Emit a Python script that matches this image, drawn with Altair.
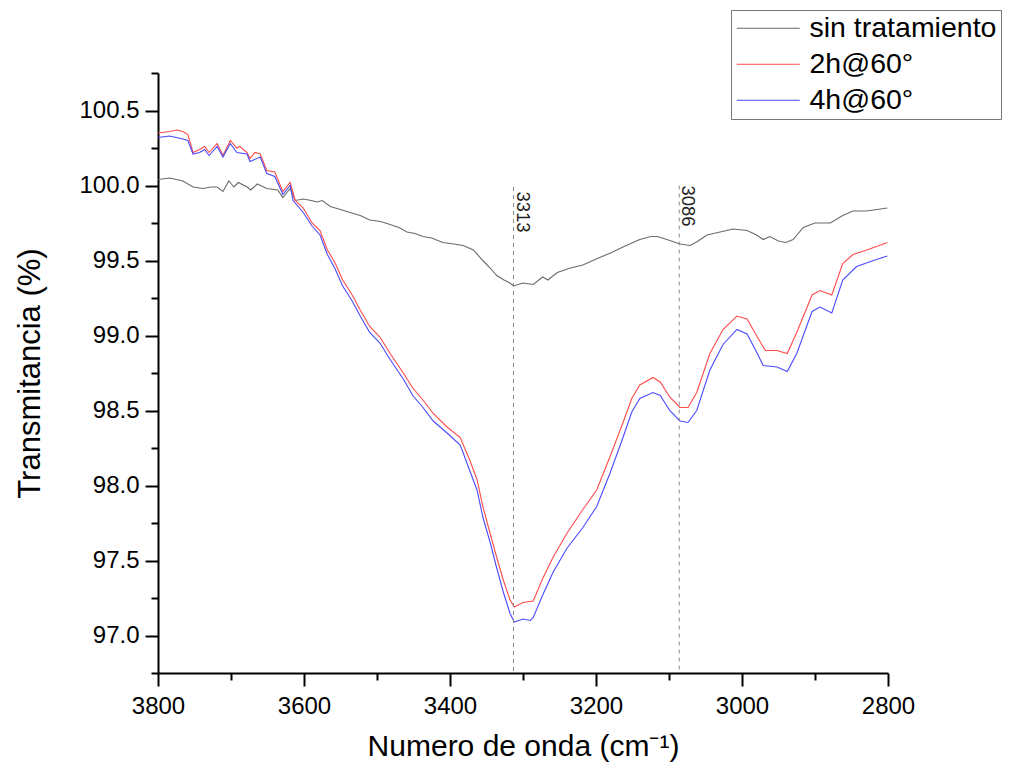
import altair as alt
import pandas as pd

FONT = "Liberation Sans"

series_names = ["sin tratamiento", "2h@60°", "4h@60°"]
series_colors = ["#6a6a6a", "#ff4a4a", "#4a4aff"]

# sin tratamiento
wn_gray = [3800, 3784, 3766, 3752, 3738, 3728, 3719, 3711, 3703, 3696, 3690, 3678, 3673,
           3664, 3651, 3636, 3629, 3619, 3612, 3601, 3590, 3582, 3575, 3564, 3550, 3537,
           3523, 3510, 3495, 3482, 3470, 3459, 3448, 3437, 3425, 3410, 3395, 3382, 3368,
           3355, 3345, 3336, 3326, 3318, 3313, 3300, 3286, 3273, 3266, 3253, 3235, 3218,
           3195, 3180, 3163, 3140, 3125, 3116, 3103, 3085, 3071, 3060, 3048, 3030, 3012,
           2993, 2980, 2971, 2962, 2950, 2940, 2930, 2916, 2900, 2879, 2862, 2848, 2830,
           2815, 2801]
t_gray = [100.04, 100.05, 100.03, 99.99, 99.98, 99.99, 99.99, 99.96, 100.03, 99.99, 100.02,
          99.99, 99.97, 100.01, 99.98, 99.97, 99.92, 99.98, 99.90, 99.91, 99.90, 99.89, 99.90,
          99.86, 99.84, 99.82, 99.80, 99.77, 99.76, 99.74, 99.72, 99.69, 99.68, 99.66, 99.65,
          99.62, 99.61, 99.60, 99.57, 99.50, 99.45, 99.40, 99.37, 99.35, 99.33, 99.35, 99.34,
          99.39, 99.37, 99.42, 99.45, 99.47, 99.52, 99.55, 99.59, 99.64, 99.66, 99.66, 99.64,
          99.61, 99.60, 99.63, 99.67, 99.69, 99.71, 99.70, 99.67, 99.64, 99.66, 99.63, 99.62,
          99.64, 99.72, 99.75, 99.75, 99.80, 99.83, 99.83, 99.84, 99.85]

# 2h@60°
wn_red = [3800, 3784, 3774, 3766, 3759, 3752, 3743, 3736, 3730, 3719, 3711, 3701, 3692,
          3688, 3678, 3674, 3667, 3660, 3651, 3640, 3629, 3619, 3612, 3601, 3589, 3578,
          3568, 3558, 3547, 3534, 3523, 3510, 3496, 3482, 3464, 3451, 3437, 3423, 3404,
          3386, 3373, 3363, 3355, 3345, 3336, 3327, 3318, 3312, 3300, 3286, 3273, 3259,
          3240, 3218, 3199, 3181, 3163, 3151, 3140, 3122, 3112, 3099, 3085, 3074, 3062,
          3044, 3026, 3007, 2993, 2979, 2968, 2952, 2938, 2925, 2904, 2893, 2877, 2862,
          2848, 2829, 2801]
t_red = [100.35, 100.36, 100.37, 100.36, 100.34, 100.22, 100.24, 100.26, 100.22, 100.28,
         100.20, 100.30, 100.25, 100.26, 100.22, 100.18, 100.22, 100.21, 100.10, 100.09,
         99.96, 100.02, 99.90, 99.85, 99.75, 99.70, 99.57, 99.49, 99.37, 99.27, 99.17, 99.06,
         98.99, 98.88, 98.75, 98.65, 98.57, 98.48, 98.39, 98.32, 98.17, 98.04, 97.86, 97.68,
         97.52, 97.37, 97.24, 97.19, 97.22, 97.23, 97.38, 97.52, 97.68, 97.84, 97.97, 98.19,
         98.42, 98.58, 98.67, 98.72, 98.69, 98.59, 98.52, 98.52, 98.62, 98.88, 99.04, 99.13,
         99.11, 98.99, 98.90, 98.90, 98.88, 99.02, 99.27, 99.30, 99.27, 99.48, 99.54, 99.57,
         99.62]

# 4h@60°
wn_blue = [3800, 3784, 3766, 3759, 3752, 3743, 3736, 3730, 3719, 3711, 3701, 3692, 3678,
           3674, 3660, 3651, 3640, 3629, 3619, 3615, 3601, 3589, 3578, 3568, 3558, 3547,
           3534, 3523, 3510, 3496, 3482, 3464, 3451, 3437, 3423, 3404, 3386, 3373, 3363,
           3355, 3345, 3336, 3327, 3318, 3312, 3300, 3290, 3286, 3273, 3259, 3240, 3218,
           3199, 3181, 3163, 3151, 3140, 3122, 3112, 3099, 3085, 3074, 3062, 3044, 3026,
           3007, 2993, 2979, 2971, 2952, 2938, 2925, 2904, 2893, 2877, 2862, 2843, 2820,
           2801]
t_blue = [100.32, 100.33, 100.31, 100.30, 100.21, 100.22, 100.24, 100.20, 100.26, 100.19,
          100.28, 100.22, 100.21, 100.16, 100.19, 100.08, 100.06, 99.94, 100.00, 99.90, 99.82,
          99.73, 99.67, 99.54, 99.45, 99.33, 99.23, 99.13, 99.02, 98.95, 98.84, 98.71, 98.60,
          98.52, 98.43, 98.35, 98.27, 98.10, 97.97, 97.79, 97.62, 97.45, 97.29, 97.15, 97.09,
          97.11, 97.10, 97.12, 97.27, 97.42, 97.58, 97.72, 97.86, 98.08, 98.32, 98.49, 98.58,
          98.62, 98.60, 98.50, 98.43, 98.42, 98.50, 98.77, 98.94, 99.04, 99.01, 98.88, 98.80,
          98.79, 98.76, 98.88, 99.16, 99.19, 99.15, 99.37, 99.46, 99.50, 99.53]

peak_wn = [3313, 3086]
peak_labels = ["3313", "3086"]
peak_top = [99.99, 100.0]
peak_label_y = [99.96, 100.0]
axis_bottom = 96.75

x_domain = [2800, 3800]
y_domain = [96.75, 100.75]
x_major = [3800, 3600, 3400, 3200, 3000, 2800]
x_minor = [3700, 3500, 3300, 3100, 2900]
y_major = [97.0, 97.5, 98.0, 98.5, 99.0, 99.5, 100.0, 100.5]
y_minor = [96.75, 97.25, 97.75, 98.25, 98.75, 99.25, 99.75, 100.25, 100.75]

rows = []
for name, wns, ts in zip(series_names, [wn_gray, wn_red, wn_blue], [t_gray, t_red, t_blue]):
    for w, t in zip(wns, ts):
        rows.append({"series": name, "wn": w, "T": t})
lines_df = pd.DataFrame(rows)

peaks_df = pd.DataFrame({"wn": peak_wn, "label": peak_labels, "top": peak_top,
                         "bottom": [axis_bottom] * len(peak_wn), "ly": peak_label_y})

xs = alt.Scale(domain=x_domain, reverse=True, nice=False, zero=False)
ys = alt.Scale(domain=y_domain, nice=False, zero=False)

main_x = alt.Axis(values=x_major, format="d", orient="bottom", tickSize=13, tickWidth=2,
                  tickColor="black", domainColor="black", domainWidth=2, grid=False,
                  labelFont=FONT, labelFontSize=24, labelColor="black", labelPadding=8,
                  labelFlush=False, labelOverlap=False,
                  title="Numero de onda (cm⁻¹)", titleFont=FONT, titleFontSize=30,
                  titleFontWeight="normal", titleColor="black", titlePadding=13)
main_y = alt.Axis(values=y_major, format=".1f", orient="left", tickSize=13, tickWidth=2,
                  tickColor="black", domainColor="black", domainWidth=2, grid=False,
                  labelFont=FONT, labelFontSize=24, labelColor="black", labelPadding=6,
                  labelOverlap=False,
                  title="Transmitancia (%)", titleFont=FONT, titleFontSize=31,
                  titleFontWeight="normal", titleColor="black", titlePadding=32)
minor_x = alt.Axis(values=x_minor, orient="bottom", labels=False, tickSize=7, tickWidth=2,
                   tickColor="black", domain=False, grid=False, title=None)
minor_y = alt.Axis(values=y_minor, orient="left", labels=False, tickSize=7, tickWidth=2,
                   tickColor="black", domain=False, grid=False, title=None)

lines = alt.Chart(lines_df).mark_line(strokeWidth=1.1).encode(
    x=alt.X("wn:Q", scale=xs, axis=main_x),
    y=alt.Y("T:Q", scale=ys, axis=main_y),
    color=alt.Color("series:N", scale=alt.Scale(domain=series_names, range=series_colors),
                    legend=alt.Legend(orient="none", legendX=573, legendY=-63, title=None,
                                      symbolType="M-2.5,0H10.1", symbolSize=100,
                                      symbolStrokeWidth=1, labelFont=FONT, labelFontSize=28.5,
                                      labelColor="black", labelOffset=46, labelLimit=400,
                                      rowPadding=7, padding=4, strokeColor="#777777",
                                      fillColor="white")),
)

rules = alt.Chart(peaks_df).mark_rule(color="#8a8a8a", strokeWidth=1, strokeDash=[4, 4]).encode(
    x=alt.X("wn:Q", scale=xs, axis=minor_x),
    y=alt.Y("top:Q", scale=ys, axis=minor_y),
    y2="bottom:Q",
)

texts = alt.Chart(peaks_df).mark_text(angle=90, align="left", baseline="alphabetic",
                                      dy=-3, font=FONT, fontSize=18.5, color="#222222").encode(
    x=alt.X("wn:Q", scale=xs, axis=None),
    y=alt.Y("ly:Q", scale=ys, axis=None),
    text="label:N",
)

chart = alt.layer(lines, rules, texts).resolve_axis(x="independent", y="independent").properties(
    width=730, height=600,
    padding={"left": 150, "top": 65, "right": 115, "bottom": 95},
    autosize=alt.AutoSizeParams(type="none"),
).configure_view(strokeWidth=0)

chart.save("out.html", embed_options={"renderer": "svg", "actions": False})
